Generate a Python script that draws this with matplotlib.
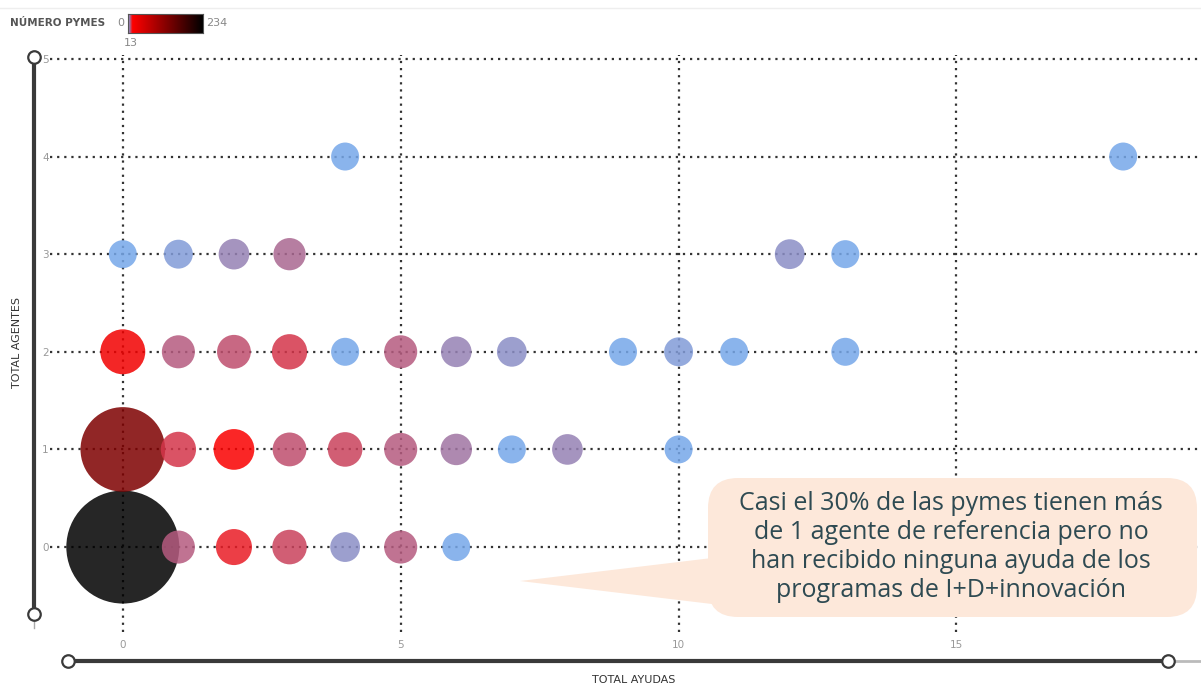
import numpy as np
import matplotlib.pyplot as plt
from matplotlib.colors import LinearSegmentedColormap, Normalize
from matplotlib.patches import FancyBboxPatch, Polygon
from matplotlib.lines import Line2D

# number of aid programmes received, number of reference agents, and pyme count per cell
ayudas = [0, 1, 2, 3, 4, 5, 6,
          0, 1, 2, 3, 4, 5, 6, 7, 8, 10,
          0, 1, 2, 3, 4, 5, 6, 7, 9, 10, 11, 13,
          0, 1, 2, 3, 12, 13,
          4, 18]
agentes = [0, 0, 0, 0, 0, 0, 0,
           1, 1, 1, 1, 1, 1, 1, 1, 1, 1,
           2, 2, 2, 2, 2, 2, 2, 2, 2, 2, 2, 2,
           3, 3, 3, 3, 3, 3,
           4, 4]
pymes = [234, 7, 11, 9, 3, 7, 1,
         125, 10, 18, 8, 9, 7, 5, 1, 4, 1,
         25, 7, 8, 10, 1, 7, 4, 3, 1, 2, 1, 1,
         1, 2, 4, 6, 3, 1,
         1, 1]

x_ticks = [0, 5, 10, 15]
y_ticks = [0, 1, 2, 3, 4, 5]
v_min, v_mid, v_max = 0, 13, 234

callout = ("Casi el 30% de las pymes tienen más\n"
           "de 1 agente de referencia pero no\n"
           "han recibido ninguna ayuda de los\n"
           "programas de I+D+innovación")

plt.rcParams['font.family'] = ['DejaVu Sans']

cmap = LinearSegmentedColormap.from_list(
    'pymes', [(0, '#6cb4fb'), (v_mid / v_max, '#ff0000'), (1, '#000000')])
norm = Normalize(v_min, v_max)

fig = plt.figure(figsize=(12.01, 6.86), dpi=100)
W, H = 1201, 686


def fx(px):
    return px / W


def fy(py):
    return 1 - py / H


ax = fig.add_axes([fx(50), fy(632), 1 - fx(50), fy(55) - fy(632)])
ax.set_xlim(-1.31, 19.4)
ax.set_ylim(-0.87, 5.04)

dots = (0, (1, 2.2))
for xt in x_ticks:
    ax.axvline(xt, color='#333333', lw=1.6, ls=dots, zorder=1)
for yt in y_ticks:
    ax.axhline(yt, color='#333333', lw=1.6, ls=dots, zorder=1)

vals = np.array(pymes, dtype=float)
diam_px = np.sqrt(733 + 51.4 * vals)
sizes = (diam_px * 0.72) ** 2
ax.scatter(ayudas, agentes, s=sizes, c=vals, cmap=cmap, norm=norm,
           alpha=0.85, edgecolors='none', zorder=2)

ax.set_xticks(x_ticks)
ax.set_yticks(y_ticks)
ax.tick_params(length=0, labelsize=7.5, labelcolor='#999999')
ax.tick_params(axis='x', pad=6)
ax.tick_params(axis='y', pad=1)
for s in ax.spines.values():
    s.set_visible(False)

# callout bubble
box = FancyBboxPatch((fx(708), fy(617)), fx(1197) - fx(708), fy(478) - fy(617),
                     boxstyle='round,pad=0,rounding_size=0.025',
                     transform=fig.transFigure, facecolor='#fde8da',
                     edgecolor='none', zorder=5, mutation_aspect=W / H)
fig.patches.append(box)
wedge = Polygon([(fx(520), fy(581)), (fx(712), fy(558)), (fx(712), fy(604))],
                closed=True, transform=fig.transFigure, facecolor='#fde8da',
                edgecolor='none', zorder=5)
fig.patches.append(wedge)
fig.text(fx(951), fy(547), callout, ha='center', va='center', fontsize=18,
         color='#2e4a52', linespacing=1.22, family=['Open Sans', 'DejaVu Sans'],
         zorder=6)

# zoom sliders along both axes
slider_col = '#3a3a3a'
fig.add_artist(Line2D([fx(34), fx(34)], [fy(614), fy(628)], color='#aaaaaa', lw=1,
                      zorder=-1))
fig.add_artist(Line2D([fx(1168), fx(1201)], [fy(661), fy(661)], color='#bbbbbb', lw=2,
                      zorder=-1))
fig.add_artist(Line2D([fx(34), fx(34)], [fy(57), fy(614)], color=slider_col,
                      lw=3, marker='o', markersize=9, markerfacecolor='white',
                      markeredgecolor=slider_col, markeredgewidth=1.6, zorder=-1))
fig.add_artist(Line2D([fx(68), fx(1168)], [fy(661), fy(661)], color=slider_col,
                      lw=3, marker='o', markersize=9, markerfacecolor='white',
                      markeredgecolor=slider_col, markeredgewidth=1.6, zorder=-1))

fig.text(fx(17), fy(343), 'TOTAL AGENTES', rotation=90, ha='center', va='center',
         fontsize=8, color='#333333')
fig.text(fx(634), fy(680), 'TOTAL AYUDAS', ha='center', va='center',
         fontsize=8, color='#333333')

# colour legend
fig.text(fx(10), fy(23), 'NÚMERO PYMES', ha='left', va='center', fontsize=7.5,
         fontweight='bold', color='#555555')
fig.text(fx(117), fy(23), '0', ha='left', va='center', fontsize=8, color='#888888')
fig.text(fx(206), fy(23), '234', ha='left', va='center', fontsize=8, color='#888888')
fig.text(fx(131), fy(43), '13', ha='center', va='center', fontsize=8, color='#888888')
cax = fig.add_axes([fx(128), fy(33), fx(203) - fx(128), fy(14) - fy(33)])
grad = np.linspace(v_min, v_max, 300)[None, :]
cax.imshow(grad, aspect='auto', cmap=cmap, norm=norm)
cax.set_xticks([])
cax.set_yticks([])
for s in cax.spines.values():
    s.set_color('#555555')
    s.set_linewidth(0.8)

fig.add_artist(Line2D([0, 1], [fy(8), fy(8)], color='#eeeeee', lw=1))

fig.savefig('out.png', dpi=100)
